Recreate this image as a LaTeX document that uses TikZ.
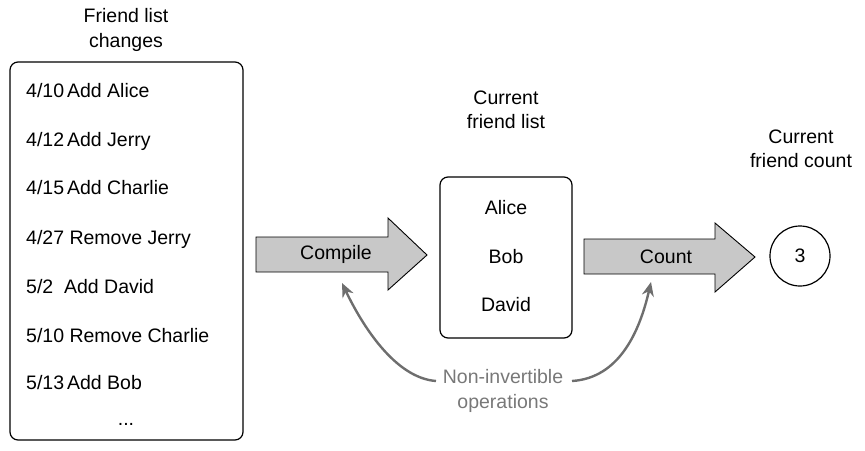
\documentclass[tikz,border=0pt]{standalone}
\usepackage{fontspec}
\setmainfont{Liberation Sans}
\usetikzlibrary{arrows.meta}
\definecolor{arrgray}{RGB}{200,200,200}
\definecolor{curvegray}{RGB}{110,110,110}
\definecolor{textgray}{RGB}{120,120,120}
\begin{document}
\begin{tikzpicture}[x=1pt,y=-1pt,
  txt/.style={font=\fontsize{19.5}{23}\selectfont, inner sep=0pt, anchor=base},
  item/.style={txt, anchor=base west},
  ttl/.style={font=\fontsize{19.5}{24.5}\selectfont, align=center, inner sep=0pt},
  box/.style={draw=black, line width=1.2pt, rounded corners=8pt},
  bigarrow/.style={draw=black, fill=arrgray, line width=0.9pt, line join=miter},
  curvearrow/.style={draw=curvegray, line width=2.4pt, -{Stealth[length=14pt,width=12pt]}}]
\useasboundingbox (0,0) rectangle (865,450);
% left box
\node[ttl] (t1) at (126,30) {Friend list\\changes};
\draw[box] (10,62) rectangle (243,440);
\node[item] (l1) at (26,97) {4/10\hspace{3pt}Add Alice};
\node[item] (l2) at (26,146) {4/12\hspace{3pt}Add Jerry};
\node[item] (l3) at (26,194) {4/15\hspace{3pt}Add Charlie};
\node[item] (l4) at (26,244) {4/27 Remove Jerry};
\node[item] (l5) at (26,293) {5/2\ \ Add David};
\node[item] (l6) at (26,342) {5/10 Remove Charlie};
\node[item] (l7) at (26,389) {5/13\hspace{3pt}Add Bob};
\node[txt] (ldots) at (126,425) {...};
% compile arrow
\draw[bigarrow] (256,237) -- (388,237) -- (388,218) -- (427,255) -- (388,290) -- (388,272) -- (256,272) -- cycle;
\node[txt, anchor=center] (compile) at (336,254) {Compile};
% middle box
\node[ttl] (t2) at (506,110) {Current\\friend list};
\draw[box] (440,177) rectangle (572,338);
\node[txt] (alice) at (506,214) {Alice};
\node[txt] (bob) at (506,263) {Bob};
\node[txt] (david) at (506,311) {David};
% count arrow
\draw[bigarrow] (584,239) -- (715,239) -- (715,223) -- (755,257) -- (715,292) -- (715,274) -- (584,274) -- cycle;
\node[txt, anchor=center] (count) at (666,257) {Count};
% circle
\node[ttl] (t3) at (801,149) {Current\\friend count};
\node[draw=black, line width=1.2pt, circle, minimum size=60pt, inner sep=0pt, font=\fontsize{19.5}{23}\selectfont] (c3) at (800,256) {3};
% label and curves
\node[ttl, text=textgray] (lbl) at (503,391) {Non-invertible\\operations};
\coordinate (e1) at (342,283);
\coordinate (e2) at (651,282);
\coordinate (s1) at (436,381);
\coordinate (s2) at (572,381);
\draw[curvearrow] (s1) .. controls (395,378) and (362,325) .. (e1);
\draw[curvearrow] (s2) .. controls (620,378) and (640,330) .. (e2);
\end{tikzpicture}
\end{document}
